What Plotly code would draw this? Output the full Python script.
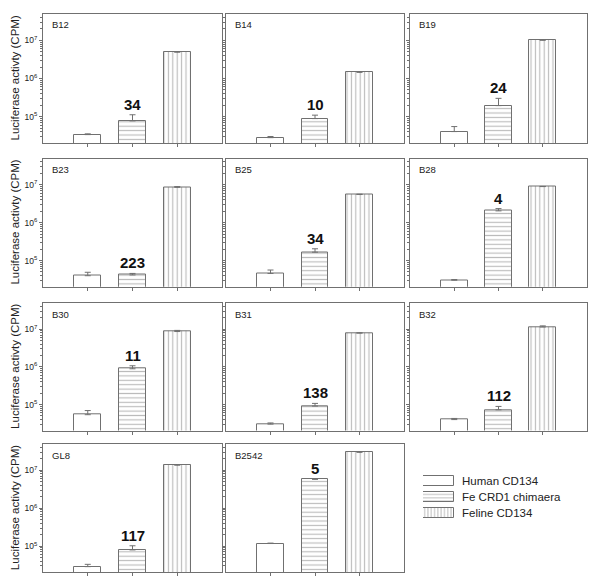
import math
import plotly.graph_objects as go

W, H = 600, 585

constructs = ["Human CD134", "Fe CRD1 chimaera", "Feline CD134"]
panels = ["B12", "B14", "B19", "B23", "B25", "B28", "B30", "B31", "B32", "GL8", "B2542"]

human = [33900, 28200, 40700, 39800, 45700, 30200, 53700, 30200, 39800, 28800, 117000]
human_err = [1600, 2000, 14300, 9200, 10500, 1400, 15500, 2200, 2900, 4300, 3000]
chimaera = [77600, 89100, 195000, 41700, 166000, 2040000, 891000, 91200, 72400, 79400, 5750000]
chimaera_err = [34600, 20500, 107000, 4000, 38000, 300000, 180000, 16000, 16700, 22600, 150000]
feline = [4900000, 1445000, 10000000, 8500000, 5500000, 8900000, 8700000, 7940000, 11500000, 13500000, 29500000]
feline_err = [110000, 70000, 470000, 400000, 120000, 100000, 630000, 100000, 800000, 600000, 1400000]
fold_labels = ["34", "10", "24", "223", "34", "4", "11", "138", "112", "117", "5"]

ytick_vals = [1e5, 1e6, 1e7]
ytick_text = ["10<sup>5</sup>", "10<sup>6</sup>", "10<sup>7</sup>"]
minor_vals = [m * 10 ** e for e in (4, 5, 6, 7) for m in range(2, 10)]

# panel geometry (pixels)
cols_px = [(43, 222), (226, 404), (410, 587)]
rows_px = [(14, 143), (158.5, 286.7), (303.3, 430.5), (444, 572.3)]
YRANGE = [4.31, 7.69]

FONT = "Liberation Sans, Arial, sans-serif"
AXC = "#707070"
PATC = "#777777"
patterns = ["", "-", "|"]
series = [(human, human_err), (chimaera, chimaera_err), (feline, feline_err)]


def fx(p):
    return p / W


def fy(p):
    return 1 - p / H


fig = go.Figure()
annotations = []

for i, name in enumerate(panels):
    r, c = divmod(i, 3)
    ax = "" if i == 0 else str(i + 1)
    xa, ya = "x" + ax, "y" + ax
    for k, cname in enumerate(constructs):
        vals, errs = series[k]
        fig.add_trace(go.Bar(
            x=[cname], y=[vals[i]], name=cname,
            xaxis=xa, yaxis=ya, width=0.6, showlegend=False,
            marker=dict(color="white",
                        line=dict(color=AXC, width=1),
                        pattern=dict(shape=patterns[k], fgcolor=PATC, bgcolor="white",
                                     size=4.4, solidity=0.26, fillmode="overlay")),
            error_y=dict(type="data", array=[errs[i]], arrayminus=[0], symmetric=False,
                         color=AXC, thickness=1, width=3),
        ))
    x0, x1 = cols_px[c]
    y0, y1 = rows_px[r]
    fig.update_layout(**{
        "xaxis" + ax: dict(domain=[fx(x0), fx(x1)], anchor=ya, type="category",
                           categoryorder="array", categoryarray=constructs,
                           range=[-1, 3], showticklabels=False, ticks="outside", ticklen=3,
                           tickcolor=AXC, showline=True, linecolor=AXC, linewidth=1,
                           mirror=True, showgrid=False, zeroline=False),
        "yaxis" + ax: dict(domain=[fy(y1), fy(y0)], anchor=xa, type="log", range=YRANGE,
                           tickvals=ytick_vals, ticktext=ytick_text,
                           showticklabels=(c == 0), ticks="outside", ticklen=3, tickcolor=AXC,
                           tickfont=dict(size=8.5, color="#222"),
                           minor=dict(tickvals=minor_vals, ticks="outside", ticklen=2, tickcolor=AXC),
                           showline=True, linecolor=AXC, linewidth=1, mirror=True,
                           showgrid=False, zeroline=False),
    })
    annotations.append(dict(text=name, xref="paper", yref="paper", x=fx(x0 + 7), y=fy(y0 + 11),
                            xanchor="left", yanchor="middle", showarrow=False,
                            font=dict(size=9.5, color="#222", family=FONT)))
    annotations.append(dict(text="<b>" + fold_labels[i] + "</b>", xref=xa, yref=ya,
                            x=constructs[1], y=math.log10(chimaera[i] + chimaera_err[i]),
                            xanchor="center", yanchor="bottom", showarrow=False, yshift=0,
                            font=dict(size=15, color="#111", family=FONT)))
    if c == 0:
        annotations.append(dict(text="Luciferase activty (CPM)", xref="paper", yref="paper",
                                x=fx(15), y=fy((y0 + y1) / 2), textangle=-90,
                                xanchor="center", yanchor="middle", showarrow=False,
                                font=dict(size=11.5, color="#222", family=FONT)))

# legend key drawn on its own small axis pair
legend_len = [1, 1, 1]
fig.add_trace(go.Bar(
    y=constructs, x=legend_len, orientation="h", xaxis="x12", yaxis="y12",
    width=0.62, showlegend=False, hoverinfo="skip",
    marker=dict(color="white", line=dict(color=AXC, width=1),
                pattern=dict(shape=patterns, fgcolor=PATC, bgcolor="white",
                             size=3.3, solidity=0.3, fillmode="overlay")),
))
fig.update_layout(
    xaxis12=dict(domain=[fx(423), fx(454)], anchor="y12", range=[0, 1], visible=False),
    yaxis12=dict(domain=[fy(521), fy(473)], anchor="x12", type="category",
                 categoryorder="array", categoryarray=constructs, range=[2.5, -0.5],
                 side="right", ticks="", showline=False, showgrid=False, zeroline=False,
                 ticklabelstandoff=7, tickfont=dict(size=11.5, color="#222", family=FONT)),
)

fig.update_layout(
    width=W, height=H, margin=dict(l=0, r=0, t=0, b=0),
    paper_bgcolor="white", plot_bgcolor="white",
    font=dict(family=FONT, color="#222"),
    bargap=0, barmode="overlay", showlegend=False,
    annotations=annotations,
)

fig.write_html("out.html", config={"displayModeBar": False},
               post_script="document.body.style.margin='0px';")
